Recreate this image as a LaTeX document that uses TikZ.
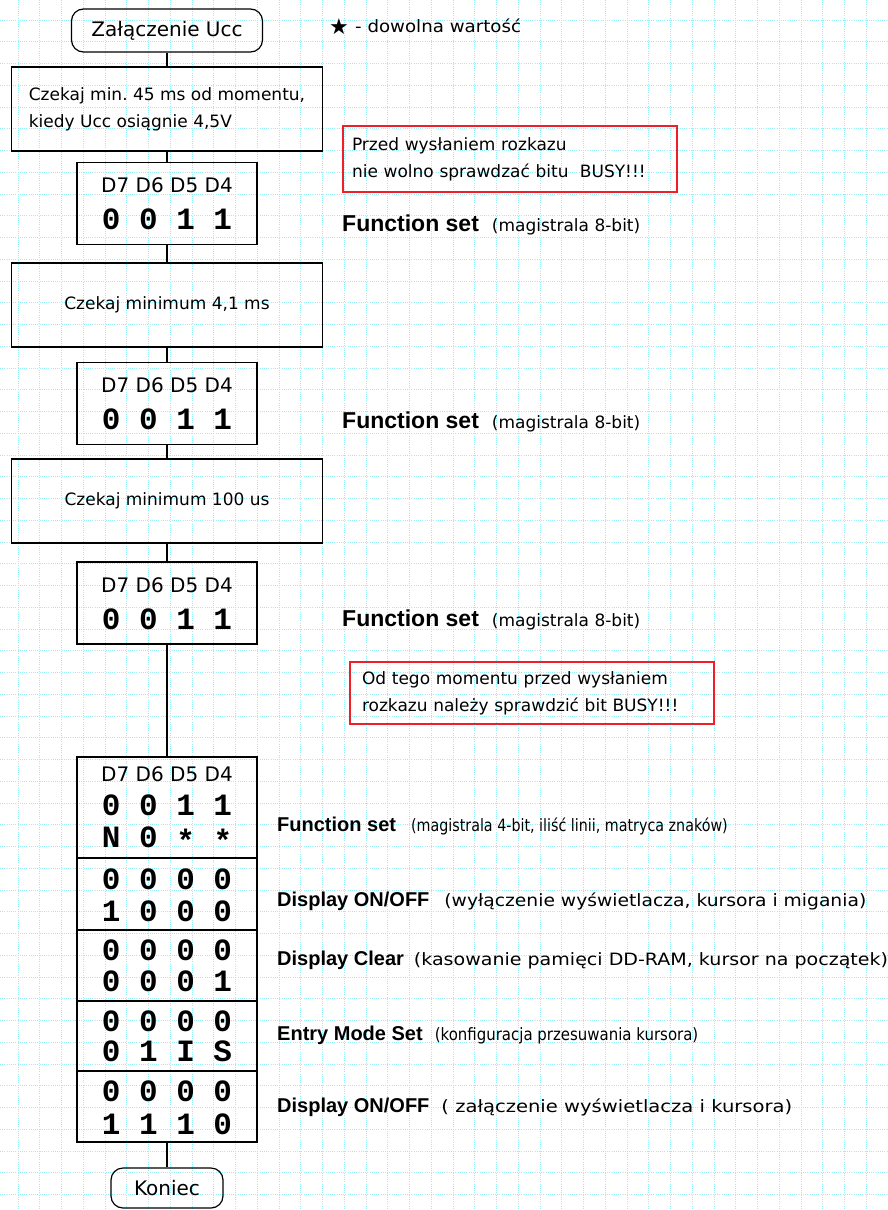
\documentclass[tikz,border=0pt]{standalone}
\usepackage{fontspec}
\setmainfont{DejaVu Sans}
\newfontfamily\labfont{Liberation Sans}
\newfontfamily\bitfont{Liberation Mono}
\definecolor{gridcyan}{RGB}{150,240,248}
\definecolor{notered}{RGB}{240,30,40}
\frenchspacing
\newcommand{\anyval}{\raisebox{-0.12em}{*}}
\newcommand{\cmdname}[1]{{\labfont\bfseries\fontsize{23}{23}\selectfont #1}}
\newcommand{\initname}[1]{{\labfont\bfseries\fontsize{20}{20}\selectfont #1}}
\newcommand{\wide}[2]{\scalebox{#1}[1]{#2}}
\tikzset{
  gridline/.style={gridcyan, line width=1pt, dash pattern=on 1pt off 1.2pt},
  flow/.style={draw, line width=1.2pt, inner sep=0pt},
  term/.style={flow, rounded corners=12pt, font=\fontsize{20}{24}\selectfont},
  waitbox/.style={flow, minimum width=311pt, minimum height=84pt, font=\fontsize{17}{27}\selectfont},
  cmdbox/.style={flow, minimum width=180pt, minimum height=82pt},
  initbox/.style={flow, minimum width=180pt},
  dhead/.style={anchor=base, inner sep=0pt, font=\fontsize{20}{20}\selectfont},
  bits/.style={anchor=base, inner sep=0pt, font=\bitfont\bfseries\fontsize{31}{31}\selectfont},
  note/.style={draw=notered, line width=1.4pt, align=left, inner ysep=0pt, font=\fontsize{17}{27}\selectfont},
  cmdlabel/.style={anchor=base west, inner sep=0pt, font=\fontsize{17}{20}\selectfont},
  link/.style={line width=1.2pt}
}
\begin{document}
\begin{tikzpicture}[x=1pt, y=-1pt]
    \useasboundingbox (0,0) rectangle (888,1210);
    \fill[white] (0,0) rectangle (888,1210);
    \foreach \gx in {0,...,40}
        \draw[gridline] ({18+21.75*\gx},0) -- ({18+21.75*\gx},1210);
    \foreach \gy in {1,...,55}
        \draw[gridline] (0,{-1.75+21.75*\gy}) -- (888,{-1.75+21.75*\gy});

    \node[term, minimum width=191pt, minimum height=43pt] (start) at (167,30.5) {Załączenie Ucc};
    \node[inner sep=0pt, font=\fontsize{22}{22}\selectfont] (star) at (339,27) {★};
    \node[cmdlabel] (legend) at (355,32) {\wide{1.07}{- dowolna wartość}};

    \node[waitbox, align=left] (wait1) at (167,109)
        {Czekaj min. 45 ms od momentu,\\kiedy Ucc osiągnie 4,5V};
    \node[note, text width=316pt, inner xsep=9pt, minimum height=66pt] (note1) at (510,159)
        {Przed wysłaniem rozkazu\\nie wolno sprawdzać bitu~ BUSY!!!};

    \node[cmdbox] (cmd1) at (167,203.5) {};
    \node[dhead] (cmd1d) at ([yshift=-31pt]cmd1.north) {D7 D6 D5 D4};
    \node[bits] (cmd1b) at ([yshift=-68pt]cmd1.north) {0 0 1 1};
    \node[cmdlabel] (lab1) at (342,231) {\cmdname{Function set}\hspace{13pt}(magistrala 8-bit)};

    \node[waitbox] (wait2) at (167,305) {Czekaj minimum 4,1 ms};

    \node[cmdbox] (cmd2) at (167,403.5) {};
    \node[dhead] (cmd2d) at ([yshift=-31pt]cmd2.north) {D7 D6 D5 D4};
    \node[bits] (cmd2b) at ([yshift=-68pt]cmd2.north) {0 0 1 1};
    \node[cmdlabel] (lab2) at (342,428) {\cmdname{Function set}\hspace{13pt}(magistrala 8-bit)};

    \node[waitbox] (wait3) at (167,501) {Czekaj minimum 100 us};

    \node[cmdbox] (cmd3) at (167,603) {};
    \node[dhead] (cmd3d) at ([yshift=-31pt]cmd3.north) {D7 D6 D5 D4};
    \node[bits] (cmd3b) at ([yshift=-68pt]cmd3.north) {0 0 1 1};
    \node[cmdlabel] (lab3) at (342,626) {\cmdname{Function set}\hspace{13pt}(magistrala 8-bit)};

    \node[note, text width=340pt, inner xsep=12pt, minimum height=62pt] (note2) at (532,693)
        {Od tego momentu przed wysłaniem\\rozkazu należy sprawdzić bit BUSY!!!};

    \node[initbox, minimum height=101pt] (init1) at (167,807.5) {};
    \node[initbox, minimum height=72pt] (init2) at (167,894) {};
    \node[initbox, minimum height=71pt] (init3) at (167,965.5) {};
    \node[initbox, minimum height=70pt] (init4) at (167,1036) {};
    \node[initbox, minimum height=71pt] (init5) at (167,1106.5) {};

    \node[dhead] (init1d) at ([yshift=-25pt]init1.north) {D7 D6 D5 D4};
    \node[bits] (init1a) at ([yshift=-59pt]init1.north) {0 0 1 1};
    \node[bits] (init1b) at ([yshift=-91pt]init1.north) {N 0 \anyval{} \anyval};
    \node[bits] (init2a) at ([yshift=-32pt]init2.north) {0 0 0 0};
    \node[bits] (init2b) at ([yshift=-64pt]init2.north) {1 0 0 0};
    \node[bits] (init3a) at ([yshift=-31pt]init3.north) {0 0 0 0};
    \node[bits] (init3b) at ([yshift=-62pt]init3.north) {0 0 0 1};
    \node[bits] (init4a) at ([yshift=-31pt]init4.north) {0 0 0 0};
    \node[bits] (init4b) at ([yshift=-61pt]init4.north) {0 1 I S};
    \node[bits] (init5a) at ([yshift=-31pt]init5.north) {0 0 0 0};
    \node[bits] (init5b) at ([yshift=-64pt]init5.north) {1 1 1 0};

    \node[cmdlabel] (lab4) at (277,831) {\initname{Function set}\hspace{15pt}\wide{0.84}{(magistrala 4-bit, iliść linii, matryca znaków)}};
    \node[cmdlabel] (lab5) at (277,906) {\initname{Display ON/OFF}\hspace{15pt}\wide{1.1}{(wyłączenie wyświetlacza, kursora i migania)}};
    \node[cmdlabel] (lab6) at (277,965) {\initname{Display Clear}\hspace{10pt}\wide{1.12}{(kasowanie pamięci DD-RAM, kursor na początek)}};
    \node[cmdlabel] (lab7) at (277,1040) {\initname{Entry Mode Set}\hspace{12pt}\wide{0.88}{(konfiguracja przesuwania kursora)}};
    \node[cmdlabel] (lab8) at (277,1112) {\initname{Display ON/OFF}\hspace{12pt}\wide{1.15}{( załączenie wyświetlacza i kursora)}};

    \node[term, minimum width=112pt, minimum height=40pt] (end) at (167,1188) {Koniec};

    \draw[link] (start) -- (wait1);
    \draw[link] (wait1) -- (cmd1);
    \draw[link] (cmd1) -- (wait2);
    \draw[link] (wait2) -- (cmd2);
    \draw[link] (cmd2) -- (wait3);
    \draw[link] (wait3) -- (cmd3);
    \draw[link] (cmd3) -- (init1);
    \draw[link] (init5) -- (end);
\end{tikzpicture}
\end{document}
